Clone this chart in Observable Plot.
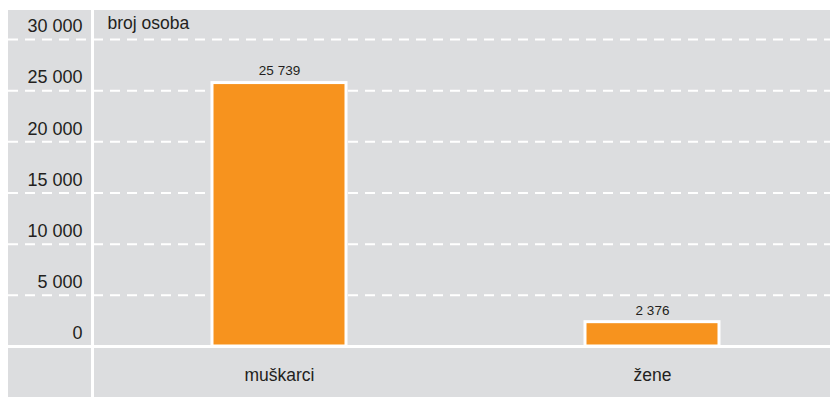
<!DOCTYPE html>
<html><head><meta charset="utf-8">
<script src="https://cdn.jsdelivr.net/npm/d3@7"></script>
<script src="https://cdn.jsdelivr.net/npm/@observablehq/plot@0.6"></script>
<style>
body{margin:0;background:#fff;}
#wrap{position:relative;width:830px;height:397px;}
#bg{position:absolute;left:8px;top:10px;width:822px;height:387px;background:#dcdddf;}
#chart{position:absolute;left:0;top:0;}
svg{font-family:"Liberation Sans",Arial,sans-serif;}
</style></head>
<body>
<div id="wrap"><div id="bg"></div><div id="chart"></div></div>
<script>
const categories = ["muškarci", "žene"];
const values = [25739, 2376];
const yTicks = [0, 5000, 10000, 15000, 20000, 25000, 30000];
const yLabel = "broj osoba";

const data = categories.map((c, i) => ({cat: c, val: values[i]}));
const fmt = d => d3.format(",")(d).replace(/,/g, " ");
const W = 830, H = 397, ML = 94, MB = 51, MT = 10;

const plot = Plot.plot({
  width: W, height: H,
  marginLeft: ML, marginRight: 0, marginTop: MT, marginBottom: MB,
  style: {background: "transparent", color: "#231f20", fontFamily: "Liberation Sans, Arial, sans-serif"},
  x: {domain: categories, range: [97, 833], paddingInner: 0.641, paddingOuter: 0.306, label: null},
  y: {domain: [0, 32830], label: null},
  marks: [
    Plot.ruleY(yTicks.filter(d => d > 0), {stroke: "#fff", strokeWidth: 2, strokeDasharray: "10,7", insetLeft: -(ML - 8)}),
    Plot.barY(data, {x: "cat", y: "val", fill: "#f7931e", stroke: "#fff", strokeWidth: 3}),
    Plot.text(data, {x: "cat", y: "val", text: d => fmt(d.val), dy: -12, fontSize: 13.5, fill: "#231f20"}),
    Plot.ruleY([0], {stroke: "#fff", strokeWidth: 3, insetLeft: -(ML - 8)}),
    Plot.axisY({ticks: yTicks, tickSize: 0, tickPadding: 12, tickFormat: fmt, fontSize: 18, dy: -13, label: null}),
    Plot.axisX({tickSize: 0, tickPadding: 22, fontSize: 17.5, label: null}),
    Plot.text([yLabel], {frameAnchor: "top-left", dx: 13, dy: 13, textAnchor: "start", lineAnchor: "middle", fontSize: 17.5, fill: "#231f20"})
  ]
});
document.getElementById("chart").appendChild(plot);
// vertical white separator between the axis column and the plot
d3.select(plot).append("line")
  .attr("x1", ML - 1.5).attr("x2", ML - 1.5)
  .attr("y1", MT).attr("y2", H)
  .attr("stroke", "#fff").attr("stroke-width", 3);
</script>
</body></html>
